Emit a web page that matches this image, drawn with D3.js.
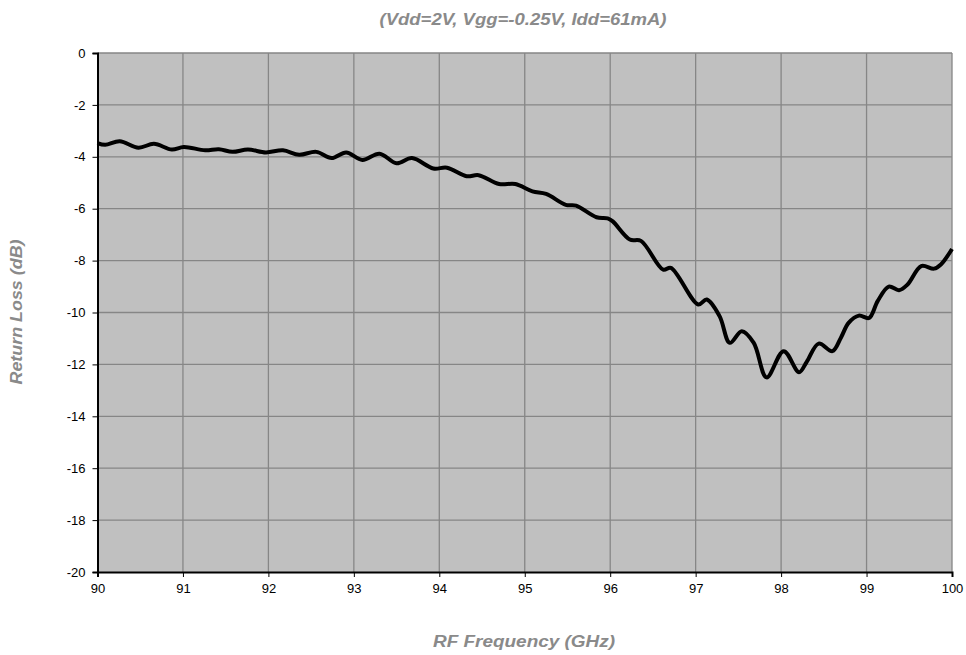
<!DOCTYPE html>
<html lang="en">
  <head>
    <title>Return Loss</title>
    <script src="https://d3js.org/d3.v7.min.js"></script>
    <style>
      body { margin: 0; background: #fff; }
      svg text { font-family: "Liberation Sans", Arial, sans-serif; }
      .axisText { font-size: 16px; font-weight: bold; font-style: italic; fill: #8a8a8a; }
    </style>
  </head>
  <body>
    <div id="content"></div>
    <script>
      // frequency (GHz) and return loss (dB)
      const freq = [90.0, 90.09, 90.26, 90.48, 90.66, 90.87, 91.01, 91.26, 91.42, 91.58,
        91.76, 91.97, 92.17, 92.36, 92.56, 92.74, 92.91, 93.1, 93.3, 93.5,
        93.68, 93.93, 94.09, 94.32, 94.46, 94.7, 94.89, 95.09, 95.25, 95.48,
        95.6, 95.84, 95.97, 96.03, 96.23, 96.36, 96.62, 96.71, 97.03, 97.13,
        97.28, 97.4, 97.54, 97.68, 97.83, 98.03, 98.21, 98.3, 98.44, 98.6,
        98.7, 98.79, 98.91, 99.03, 99.13, 99.26, 99.38, 99.48, 99.64, 99.79,
        99.87, 100.0];
      const returnLoss = [-3.47, -3.54, -3.4, -3.65, -3.5, -3.72, -3.62, -3.75, -3.71, -3.81,
        -3.72, -3.83, -3.75, -3.92, -3.81, -4.05, -3.83, -4.12, -3.88, -4.25,
        -4.05, -4.45, -4.42, -4.75, -4.71, -5.05, -5.05, -5.33, -5.43, -5.85,
        -5.88, -6.33, -6.37, -6.49, -7.19, -7.24, -8.35, -8.28, -9.69, -9.5,
        -10.14, -11.17, -10.72, -11.17, -12.5, -11.49, -12.3, -11.9, -11.2, -11.49,
        -10.97, -10.4, -10.12, -10.21, -9.56, -9.0, -9.14, -8.92, -8.21, -8.31,
        -8.15, -7.55];
      const xTicks = [90, 91, 92, 93, 94, 95, 96, 97, 98, 99, 100];
      const yTicks = [0, -2, -4, -6, -8, -10, -12, -14, -16, -18, -20];

      const width = 966;
      const height = 655;
      const marginTop = 53;
      const marginRight = 14;
      const marginBottom = 83;
      const marginLeft = 97.5;

      const data = freq.map((f, i) => ({ f: f, v: returnLoss[i] }));

      const x = d3.scaleLinear().domain([90, 100]).range([marginLeft, width - marginRight]);
      const y = d3.scaleLinear().domain([-20, 0]).range([height - marginBottom, marginTop]);

      const svg = d3.select("#content")
        .append("svg")
        .attr("width", width)
        .attr("height", height);

      svg.append("rect")
        .attr("x", x(90))
        .attr("y", y(0))
        .attr("width", x(100) - x(90))
        .attr("height", y(-20) - y(0))
        .attr("fill", "#c0c0c0");

      // grid
      svg.append("g")
        .selectAll("line")
        .data(xTicks.slice(1))
        .join("line")
        .attr("x1", d => x(d)).attr("x2", d => x(d))
        .attr("y1", y(0)).attr("y2", y(-20))
        .attr("stroke", "#868686")
        .attr("stroke-width", 1.3);

      svg.append("g")
        .selectAll("line")
        .data(yTicks.slice(0, -1))
        .join("line")
        .attr("x1", x(90)).attr("x2", x(100))
        .attr("y1", d => y(d)).attr("y2", d => y(d))
        .attr("stroke", "#868686")
        .attr("stroke-width", 1.3);

      const xAxis = svg.append("g")
        .attr("transform", `translate(0,${y(-20)})`)
        .call(d3.axisBottom(x).tickValues(xTicks).tickSize(5).tickPadding(7).tickFormat(d3.format("d")));

      const yAxis = svg.append("g")
        .attr("transform", `translate(${x(90)},0)`)
        .call(d3.axisLeft(y).tickValues(yTicks).tickSize(5).tickPadding(7).tickFormat(d => d === 0 ? "0" : "-" + Math.abs(d)));

      [xAxis, yAxis].forEach(a => {
        a.selectAll("text").attr("font-size", 13).attr("fill", "#000")
          .style("font-family", "'Liberation Sans', Arial, sans-serif");
        a.selectAll("line").attr("stroke", "#000");
        a.select(".domain").attr("stroke", "#000").attr("stroke-width", 2);
      });

      svg.append("path")
        .datum(data)
        .attr("fill", "none")
        .attr("stroke", "#000")
        .attr("stroke-width", 4)
        .attr("stroke-linejoin", "round")
        .attr("d", d3.line().x(d => x(d.f)).y(d => y(d.v)).curve(d3.curveCatmullRom.alpha(0.5)));

      svg.append("text")
        .attr("text-anchor", "middle")
        .attr("x", 523)
        .attr("y", 25)
        .attr("class", "axisText")
        .attr("textLength", 287)
        .attr("lengthAdjust", "spacingAndGlyphs")
        .text("(Vdd=2V, Vgg=-0.25V, Idd=61mA)");

      svg.append("text")
        .attr("text-anchor", "middle")
        .attr("x", 524)
        .attr("y", 647)
        .attr("class", "axisText")
        .attr("textLength", 182)
        .attr("lengthAdjust", "spacingAndGlyphs")
        .text("RF Frequency (GHz)");

      svg.append("text")
        .attr("text-anchor", "middle")
        .attr("transform", "rotate(-90)")
        .attr("x", -312)
        .attr("y", 22)
        .attr("class", "axisText")
        .attr("textLength", 145)
        .attr("lengthAdjust", "spacingAndGlyphs")
        .text("Return Loss (dB)");
    </script>
  </body>
</html>
